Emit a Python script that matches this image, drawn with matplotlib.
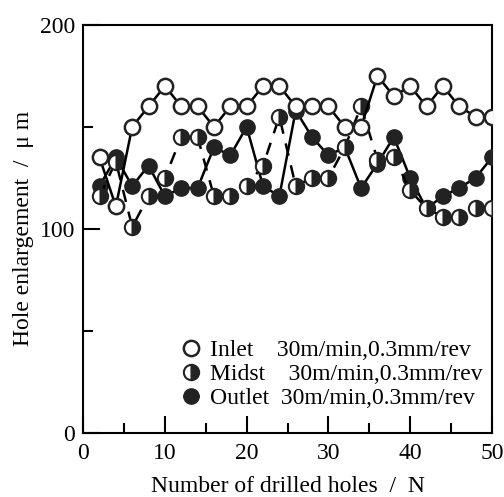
import matplotlib
matplotlib.use("Agg")
import matplotlib.pyplot as plt
from matplotlib.ticker import MultipleLocator

plt.rcParams['font.family'] = ['Liberation Serif', 'DejaVu Serif']

holes = [2, 4, 6, 8, 10, 12, 14, 16, 18, 20, 22, 24, 26, 28, 30, 32, 34, 36, 38, 40, 42, 44, 46, 48, 50]
inlet = [135, 111, 150, 160, 170, 160, 160, 150, 160, 160, 170, 170, 160, 160, 160, 150, 150, 175, 165, 170, 160, 170, 160, 155, 155]
midst = [116, 133, 101, 116, 125, 145, 145, 116, 116, 121, 131, 155, 121, 125, 125, 140, 160, 134, 135, 119, 110, 106, 106, 110, 110]
outlet = [121, 135, 121, 131, 116, 120, 120, 140, 136, 150, 121, 116, 158, 145, 136, 140, 120, 132, 145, 125, 110, 116, 120, 125, 135]

label_inlet = "Inlet    30m/min,0.3mm/rev"
label_midst = "Midst    30m/min,0.3mm/rev"
label_outlet = "Outlet  30m/min,0.3mm/rev"

fig = plt.figure(figsize=(5.04, 4.97), dpi=100)
ax = fig.add_axes([0.165, 0.129, 0.811, 0.821])

ms = 11
ax.plot(holes, outlet, '-', color='black', lw=1.8, marker='o', ms=ms,
        mfc='#222222', mec='#222222', label=label_outlet, zorder=3)
ax.plot(holes, midst, '--', color='black', lw=1.8, dashes=(5, 4), marker='o', ms=ms,
        fillstyle='right', mfc='#222222', mfcalt='white', mec='#222222', mew=1.5,
        label=label_midst, zorder=4)
ax.plot(holes, inlet, '-', color='black', lw=1.8, marker='o', ms=ms,
        mfc='white', mec='#222222', mew=1.8, label=label_inlet, zorder=5)

ax.set_xlim(0, 50)
ax.set_ylim(0, 200)
ax.xaxis.set_major_locator(MultipleLocator(10))
ax.xaxis.set_minor_locator(MultipleLocator(5))
ax.yaxis.set_major_locator(MultipleLocator(100))
ax.yaxis.set_minor_locator(MultipleLocator(50))
ax.tick_params(which='both', direction='in', top=False, right=False, width=1.5, labelsize=17)
ax.tick_params(which='major', length=12)
ax.tick_params(which='minor', length=7)
ax.tick_params(axis='x', pad=7)
ax.tick_params(axis='y', pad=6)
for s in ax.spines.values():
    s.set_linewidth(1.5)

ax.set_xlabel("Number of drilled holes  /  N", fontsize=17, labelpad=9)
ax.set_ylabel("Hole enlargement  /  \u03bc m", fontsize=17, labelpad=4)

h, l = ax.get_legend_handles_labels()
order = [2, 1, 0]
ax.legend([h[i] for i in order], [l[i] for i in order], loc='lower right',
          frameon=False, fontsize=17, handlelength=0.6, handletextpad=0.5,
          labelspacing=0.1, borderaxespad=0.0, bbox_to_anchor=(1.0, 0.035))

fig.savefig("out.png", dpi=100)
